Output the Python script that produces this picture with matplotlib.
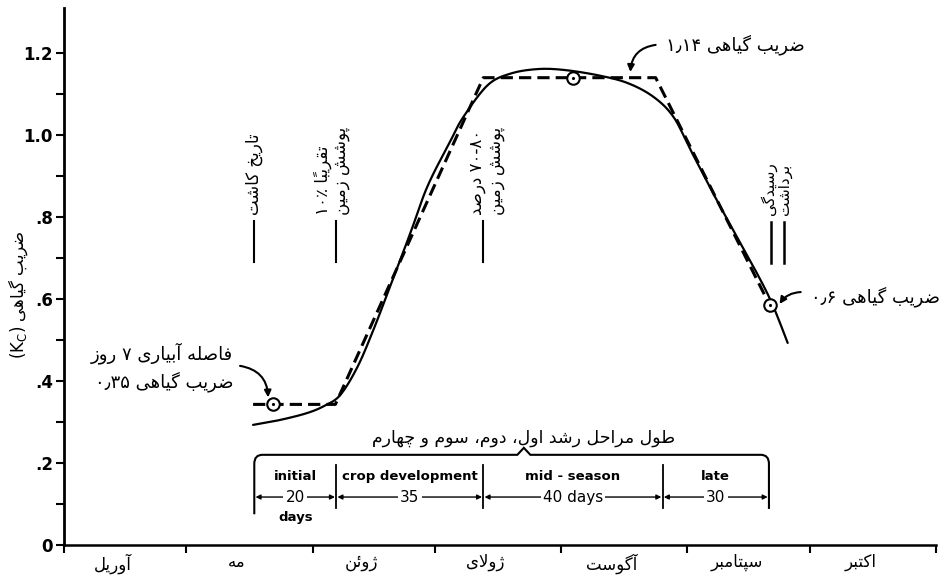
import re
import numpy as np
import matplotlib
matplotlib.use('Agg')
import matplotlib.pyplot as plt
from matplotlib.path import Path
from matplotlib.patches import PathPatch

# ---------------- data ----------------
months = ['آوریل', 'مه', 'ژوئن', 'ژولای', 'آگوست', 'سپتامبر', 'اکتبر']
month_days = [30, 31, 30, 31, 31, 30, 31]

# measured Kc curve (days from 1 April)
curve_day = [46.4, 53, 59.7, 64, 67.8, 72, 75.9, 80, 85, 89.2, 94.8, 98, 104,
             109.6, 116.2, 122.6, 131, 138.3, 144.7, 149.6, 153.8, 160, 164.4,
             172.7, 177.6]
curve_kc = [0.293, 0.305, 0.322, 0.340, 0.366, 0.434, 0.524, 0.63, 0.761, 0.875,
            0.985, 1.044, 1.122, 1.150, 1.161, 1.159, 1.146, 1.127, 1.093, 1.044,
            0.963, 0.845, 0.765, 0.612, 0.493]

# FAO construction line
kc_day = [46.4, 66.6, 102.9, 145.2, 173.2]
kc_val = [0.343, 0.343, 1.14, 1.14, 0.585]

# circled Kc points
point_day = [51.4, 124.8, 173.2]
point_kc = [0.343, 1.14, 0.585]

# growth stages
stage_bounds = [46.7, 66.8, 102.9, 146.9, 173.0]
stage_names = ['initial', 'crop development', 'mid - season', 'late']
stage_lengths = ['20', '35', '40 days', '30']

# event markers
event_day = [46.7, 66.8, 102.9]
harvest_day = [173.5, 176.7]

y_ticks = [0, 0.2, 0.4, 0.6, 0.8, 1.0, 1.2]
y_ticklabels = ['0', '.2', '.4', '.6', '.8', '1.0', '1.2']

# ------------- Persian shaping (no shaping engine in matplotlib) -------------
_table = [('آ', 0xFE81, 2), ('أ', 0xFE83, 2), ('ؤ', 0xFE85, 2), ('إ', 0xFE87, 2),
          ('ئ', 0xFE89, 4), ('ا', 0xFE8D, 2), ('ب', 0xFE8F, 4), ('ة', 0xFE93, 2),
          ('ت', 0xFE95, 4), ('ث', 0xFE99, 4), ('ج', 0xFE9D, 4), ('ح', 0xFEA1, 4),
          ('خ', 0xFEA5, 4), ('د', 0xFEA9, 2), ('ذ', 0xFEAB, 2), ('ر', 0xFEAD, 2),
          ('ز', 0xFEAF, 2), ('س', 0xFEB1, 4), ('ش', 0xFEB5, 4), ('ص', 0xFEB9, 4),
          ('ض', 0xFEBD, 4), ('ط', 0xFEC1, 4), ('ظ', 0xFEC5, 4), ('ع', 0xFEC9, 4),
          ('غ', 0xFECD, 4), ('ف', 0xFED1, 4), ('ق', 0xFED5, 4), ('ك', 0xFED9, 4),
          ('ل', 0xFEDD, 4), ('م', 0xFEE1, 4), ('ن', 0xFEE5, 4), ('ه', 0xFEE9, 4),
          ('و', 0xFEED, 2), ('ي', 0xFEF1, 4), ('پ', 0xFB56, 4), ('چ', 0xFB7A, 4),
          ('ژ', 0xFB8A, 2), ('ک', 0xFB8E, 4), ('گ', 0xFB92, 4), ('ی', 0xFBFC, 4),
          ('\uFEFB', 0xFEFB, 2), ('\uFEF5', 0xFEF5, 2)]
FORMS = {}
for ch, cp, n in _table:
    f = [chr(cp + k) for k in range(n)]
    FORMS[ch] = tuple(f) if n == 4 else (f[0], f[1], None, None)
MARKS = set(chr(c) for c in range(0x064B, 0x0653))
MIRROR = {'(': ')', ')': '('}
LTR = re.compile(r'[0-9۰-۹A-Za-z][0-9۰-۹A-Za-z٫٪%.\-]*')


def shape_rtl(s):
    s = s.replace('لا', '\uFEFB').replace('لآ', '\uFEF5')
    clusters = []
    for ch in s:
        if ch in MARKS and clusters:
            clusters[-1] += ch
        else:
            clusters.append(ch)
    bases = [c[0] for c in clusters]
    out = []
    for i, c in enumerate(clusters):
        b = c[0]
        if b not in FORMS:
            out.append(MIRROR.get(b, b) + c[1:])
            continue
        prev = bases[i - 1] if i > 0 else None
        nxt = bases[i + 1] if i + 1 < len(bases) else None
        cp = prev in FORMS and FORMS[prev][2] is not None
        cn = nxt in FORMS and FORMS[b][2] is not None
        iso, fin, ini, med = FORMS[b]
        g = med if (cp and cn) else fin if cp else ini if cn else iso
        out.append(g + c[1:])
    return ''.join(reversed(out))


def fa(text):
    lines = []
    for line in text.split('\n'):
        parts, pos = [], 0
        for m in LTR.finditer(line):
            if m.start() > pos:
                parts.append(shape_rtl(line[pos:m.start()]))
            parts.append(m.group())
            pos = m.end()
        if pos < len(line):
            parts.append(shape_rtl(line[pos:]))
        lines.append(''.join(reversed(parts)))
    return '\n'.join(lines)


def smooth(xs, ys, n=12):
    # Catmull-Rom through the measured points, only for drawing
    p = np.column_stack([xs, ys])
    p = np.vstack([p[0], p, p[-1]])
    out = []
    t = np.linspace(0, 1, n, endpoint=False)[:, None]
    for i in range(1, len(p) - 2):
        p0, p1, p2, p3 = p[i - 1], p[i], p[i + 1], p[i + 2]
        out.append(0.5 * ((2 * p1) + (-p0 + p2) * t + (2 * p0 - 5 * p1 + 4 * p2 - p3) * t ** 2
                          + (-p0 + 3 * p1 - 3 * p2 + p3) * t ** 3))
    out.append(p[-2][None, :])
    out = np.vstack(out)
    return out[:, 0], out[:, 1]


# ---------------- plot ----------------
plt.rcParams['font.family'] = ['DejaVu Sans']
fig = plt.figure(figsize=(9.44, 5.82), dpi=100)
ax = fig.add_axes([64 / 944, 37 / 582, 872 / 944, 537 / 582])
ax.set_xlim(0, 214)
ax.set_ylim(0, 1.31)

ax.spines['top'].set_visible(False)
ax.spines['right'].set_visible(False)
ax.spines['left'].set_linewidth(2)
ax.spines['bottom'].set_linewidth(1.8)

ax.set_yticks(y_ticks)
ax.set_yticklabels(y_ticklabels, fontsize=12, fontweight='bold')
ax.set_yticks([0.1, 0.3, 0.5, 0.7, 0.9, 1.1], minor=True)
ax.tick_params(axis='y', which='both', length=6, width=1.5, pad=2)

bounds = [0]
for d in month_days:
    bounds.append(bounds[-1] + d)
mids = [(a + b) / 2 - 3 for a, b in zip(bounds[:-1], bounds[1:])]
ax.set_xticks(bounds)
ax.set_xticklabels([''] * len(bounds))
ax.set_xticks(mids, minor=True)
ax.set_xticklabels([fa(m) for m in months], minor=True, fontsize=12)
ax.tick_params(axis='x', which='major', length=6, width=1.5)
ax.tick_params(axis='x', which='minor', length=0, pad=6)

# y label
fig.text(18 / 944, 1 - 295 / 582, '(K$_\\mathregular{C}$) ' + fa('ضریب گیاهی'),
         rotation=90, ha='center', va='center', fontsize=12)

# curves
sx, sy = smooth(curve_day, curve_kc)
ax.plot(sx, sy, color='black', lw=1.6, solid_capstyle='round')
ax.plot(kc_day, kc_val, color='black', lw=2.2, dashes=(4, 2))
ax.plot(point_day, point_kc, 'o', ms=9, mfc='white', mec='black', mew=1.5, zorder=5)
ax.plot(point_day, point_kc, '.', ms=2.5, color='black', zorder=6)

# event lines and labels
for d in event_day:
    ax.plot([d, d], [0.69, 0.79], color='black', lw=1.5)
for d in harvest_day:
    ax.plot([d, d], [0.688, 0.788], color='black', lw=1.8)

ax.text(event_day[0], 0.805, fa('تاریخ کاشت'), rotation=90, ha='center', va='bottom', fontsize=12)
ax.text(event_day[1] - 1, 0.805, fa('تقریباً ۱۰٪\nپوشش زمین'), rotation=90, ha='center',
        va='bottom', fontsize=12, multialignment='left', linespacing=1.0)
ax.text(event_day[2] + 0.8, 0.805, fa('۷۰-۸۰ درصد\nپوشش زمین'), rotation=90, ha='center',
        va='bottom', fontsize=12, multialignment='left', linespacing=1.0)
ax.text(harvest_day[0] + 1.3, 0.805, fa('رسیدگی\nبرداشت'), rotation=90, ha='center',
        va='bottom', fontsize=11, multialignment='left', linespacing=0.95)

# annotations
ax.text(41.5, 0.435, fa('فاصله آبیاری ۷ روز\nضریب گیاهی ۰٫۳۵'), ha='right', va='center',
        fontsize=13, multialignment='right', linespacing=1.45)
ax.annotate('', xy=(50.1, 0.36), xytext=(43.2, 0.437),
            arrowprops=dict(arrowstyle='-|>', color='black', lw=1.5, mutation_scale=10,
                            shrinkA=0, shrinkB=0, connectionstyle='arc3,rad=-0.4'))

ax.text(147.7, 1.22, fa('ضریب گیاهی ۱٫۱۴'), ha='left', va='center', fontsize=13)
ax.annotate('', xy=(139, 1.154), xytext=(145.2, 1.22),
            arrowprops=dict(arrowstyle='-|>', color='black', lw=1.5, mutation_scale=10,
                            shrinkA=0, shrinkB=0, connectionstyle='arc3,rad=0.4'))

ax.text(183.3, 0.607, fa('ضریب گیاهی ۰٫۶'), ha='left', va='center', fontsize=13)
ax.annotate('', xy=(175.6, 0.588), xytext=(180.8, 0.617),
            arrowprops=dict(arrowstyle='-|>', color='black', lw=1.5, mutation_scale=10,
                            shrinkA=0, shrinkB=0, connectionstyle='arc3,rad=0.25'))

# stage brace
left, right = stage_bounds[0], stage_bounds[-1]
notch = (left + right) / 2 + 3
yb, rx, ry = 0.22, 2.0, 0.022
verts = [(left, 0.075), (left, yb - ry), (left, yb), (left + rx, yb),
         (notch - 1.6, yb), (notch, 0.237), (notch + 1.6, yb),
         (right - rx, yb), (right, yb), (right, yb - ry), (right, 0.088)]
codes = [Path.MOVETO, Path.LINETO, Path.CURVE3, Path.CURVE3,
         Path.LINETO, Path.LINETO, Path.LINETO,
         Path.LINETO, Path.CURVE3, Path.CURVE3, Path.LINETO]
ax.add_patch(PathPatch(Path(verts, codes), fill=False, lw=1.5, color='black'))
ax.text(notch, 0.262, fa('طول مراحل رشد اول، دوم، سوم و چهارم'), ha='center',
        va='center', fontsize=12.5)

for d in stage_bounds[1:-1]:
    ax.plot([d, d], [0.09, 0.195], color='black', lw=1.3)

for i in range(len(stage_names)):
    a, b = stage_bounds[i], stage_bounds[i + 1]
    ax.text((a + b) / 2, 0.166, stage_names[i], ha='center', va='center',
            fontsize=9.5, fontweight='semibold')
    ax.annotate('', xy=(b - 0.3, 0.117), xytext=(a + 0.3, 0.117),
                arrowprops=dict(arrowstyle='<|-|>', color='black', lw=1.0,
                                mutation_scale=7, shrinkA=0, shrinkB=0))
    ax.text((a + b) / 2, 0.117, stage_lengths[i], ha='center', va='center', fontsize=11,
            bbox=dict(facecolor='white', edgecolor='none', pad=1.5))
ax.text((stage_bounds[0] + stage_bounds[1]) / 2, 0.066, 'days', ha='center', va='center',
        fontsize=9.5, fontweight='bold')

fig.savefig('out.png', dpi=100)
